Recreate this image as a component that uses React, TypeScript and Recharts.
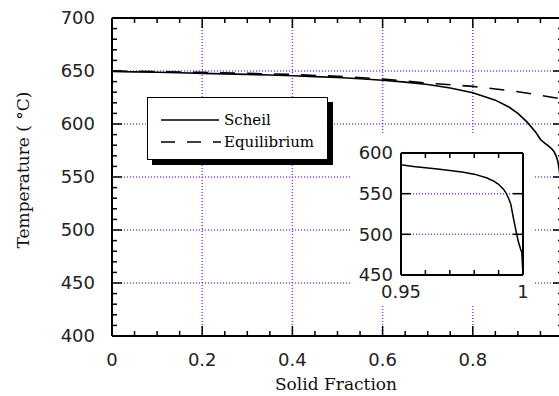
import { LineChart, Line, XAxis, YAxis, CartesianGrid, ReferenceLine } from "recharts";

// Scheil solidification path (solid fraction -> temperature, °C)
const scheilFs = [
  0, 0.05, 0.1, 0.15, 0.2, 0.25, 0.3, 0.35, 0.4, 0.45, 0.5, 0.55, 0.6, 0.65,
  0.7, 0.75, 0.8, 0.85, 0.88, 0.9, 0.92, 0.94, 0.95, 0.955, 0.96, 0.965, 0.97,
  0.975, 0.98, 0.985, 0.988, 0.99, 0.992, 0.993, 0.994, 0.995, 0.996, 0.997,
  0.998, 0.999, 0.9995, 1,
];
const scheilT = [
  649.5, 649.2, 648.8, 648.3, 647.8, 647.3, 646.8, 646.2, 645.5, 644.7, 643.8,
  642.7, 641.3, 639.5, 637.2, 634, 629.5, 622.5, 616, 610, 602, 592, 585.5,
  583.5, 581.8, 580.2, 578.5, 576.5, 574, 569.5, 565.5, 561.5, 555.5, 551, 545,
  537, 521, 506, 492, 482, 478, 450,
];

// Equilibrium (lever rule) path
const equilFs = [0, 0.1, 0.2, 0.3, 0.4, 0.5, 0.6, 0.7, 0.8, 0.85, 0.9, 0.95, 1];
const equilT = [
  650, 649.5, 648.7, 647.8, 646.7, 645, 642.5, 638.5, 635.5, 633, 630.5, 627,
  623.5,
];

// main axes
const mainXTicks = [
  0, 0.05, 0.1, 0.15, 0.2, 0.25, 0.3, 0.35, 0.4, 0.45, 0.5, 0.55, 0.6, 0.65,
  0.7, 0.75, 0.8, 0.85, 0.9, 0.95, 1,
];
const mainXMajors = [0, 0.2, 0.4, 0.6, 0.8, 1];
const mainXLabels = [0, 0.2, 0.4, 0.6, 0.8];
const mainYTicks = [
  400, 410, 420, 430, 440, 450, 460, 470, 480, 490, 500, 510, 520, 530, 540,
  550, 560, 570, 580, 590, 600, 610, 620, 630, 640, 650, 660, 670, 680, 690, 700,
];
const mainYMajors = [400, 450, 500, 550, 600, 650, 700];

// inset axes (end of solidification)
const insetXTicks = [0.95, 0.96, 0.97, 0.98, 0.99, 1];
const insetXMajors = [0.95, 1];
const insetYTicks = [450, 500, 550, 600];

const scheil = scheilFs.map((fs, i) => ({ fs, t: scheilT[i] }));
const equilibrium = equilFs.map((fs, i) => ({ fs, t: equilT[i] }));
const scheilTail = scheil.filter((d) => d.fs >= 0.95);

const GRID = "#9933ff";
const SANS = "'DejaVu Sans', sans-serif";
const SERIF = "'DejaVu Serif', serif";

// plot boxes
const MAIN = { left: 112, top: 18, width: 451, height: 318, chartW: 568, chartH: 396 };
const INSET = { left: 49, top: 20, width: 122, height: 122, boxW: 181, boxH: 171 };

const has = (list: number[], v: number) => list.some((m) => Math.abs(m - v) < 1e-9);

interface TickSpec {
  majors: number[];
  labels: number[];
  majorLen: number;
  minorLen: number;
  gap: number;
  span: number; // distance to the opposite side of the frame
}

// bottom ticks: inward tick on the bottom edge and the mirrored one on the top edge
function xFrameTick(spec: TickSpec) {
  return (props: any) => {
    const { x, y, payload } = props;
    const v: number = payload.value;
    const len = has(spec.majors, v) ? spec.majorLen : spec.minorLen;
    const top = y - spec.span;
    return (
      <g>
        <line x1={x} y1={y} x2={x} y2={y - len} stroke="#000" strokeWidth={1.5} />
        <line x1={x} y1={top} x2={x} y2={top + len} stroke="#000" strokeWidth={1.5} />
        {has(spec.labels, v) && (
          <text x={x} y={y + spec.gap} dy="0.36em" textAnchor="middle" fontSize={18} fontFamily={SANS} fill="#222">
            {String(v)}
          </text>
        )}
      </g>
    );
  };
}

// left ticks: inward tick on the left edge and the mirrored one on the right edge
function yFrameTick(spec: TickSpec) {
  return (props: any) => {
    const { x, y, payload } = props;
    const v: number = payload.value;
    const len = has(spec.majors, v) ? spec.majorLen : spec.minorLen;
    const right = x + spec.span;
    return (
      <g>
        <line x1={x} y1={y} x2={x + len} y2={y} stroke="#000" strokeWidth={1.5} />
        <line x1={right} y1={y} x2={right - len} y2={y} stroke="#000" strokeWidth={1.5} />
        {has(spec.labels, v) && (
          <text x={x - spec.gap} y={y} dy="0.36em" textAnchor="end" fontSize={18} fontFamily={SANS} fill="#222">
            {String(v)}
          </text>
        )}
      </g>
    );
  };
}

const axisLine = { stroke: "#000", strokeWidth: 2 };
const frame = { stroke: "#000", strokeWidth: 2, ifOverflow: "visible" as const };

function Inset() {
  return (
    <div
      style={{
        position: "absolute",
        left: 352,
        top: 133,
        width: INSET.boxW,
        height: INSET.boxH,
        background: "#fff",
      }}
    >
      <LineChart
        width={INSET.boxW}
        height={INSET.boxH}
        margin={{
          top: INSET.top,
          right: INSET.boxW - INSET.left - INSET.width,
          bottom: 0,
          left: 0,
        }}
      >
        <CartesianGrid
          vertical={false}
          horizontalValues={[500, 550]}
          stroke={GRID}
          strokeDasharray="1 2"
          strokeWidth={1.5}
        />
        <XAxis
          dataKey="fs"
          type="number"
          domain={[0.95, 1]}
          allowDataOverflow
          ticks={insetXTicks}
          interval={0}
          height={INSET.boxH - INSET.top - INSET.height}
          tickSize={0}
          tickMargin={0}
          tickLine={false}
          axisLine={axisLine}
          tick={xFrameTick({ majors: insetXMajors, labels: insetXMajors, majorLen: 10, minorLen: 5, gap: 17, span: INSET.height })}
        />
        <YAxis
          type="number"
          domain={[450, 600]}
          allowDataOverflow
          ticks={insetYTicks}
          interval={0}
          width={INSET.left}
          tickSize={0}
          tickMargin={0}
          tickLine={false}
          axisLine={axisLine}
          tick={yFrameTick({ majors: insetYTicks, labels: insetYTicks, majorLen: 10, minorLen: 5, gap: 8, span: INSET.width })}
        />
        <ReferenceLine y={600} {...frame} />
        <ReferenceLine x={1} {...frame} />
        <Line
          data={scheilTail}
          dataKey="t"
          type="linear"
          stroke="#000"
          strokeWidth={1.5}
          dot={false}
          isAnimationActive={false}
        />
      </LineChart>
    </div>
  );
}

function LegendBox() {
  return (
    <div
      style={{
        position: "absolute",
        left: 147,
        top: 97,
        width: 179,
        height: 61,
        border: "1px solid #000",
        background: "#fff",
        boxShadow: "5px 5px 0 #000",
      }}
    >
      <svg width={179} height={61} style={{ display: "block" }}>
        <line x1={13} y1={22} x2={71} y2={22} stroke="#000" strokeWidth={1.5} />
        <text x={76} y={27} fontSize={15} fontFamily={SERIF} fill="#000">
          Scheil
        </text>
        <line x1={13} y1={44} x2={73} y2={44} stroke="#000" strokeWidth={1.5} strokeDasharray="14 12" />
        <text x={76} y={49} fontSize={15} fontFamily={SERIF} fill="#000">
          Equilibrium
        </text>
      </svg>
    </div>
  );
}

export default function App() {
  return (
    <div
      style={{
        position: "absolute",
        left: 0,
        top: 0,
        width: 559,
        height: 396,
        overflow: "hidden",
        background: "#fff",
      }}
    >
      <LineChart
        width={MAIN.chartW}
        height={MAIN.chartH}
        margin={{ top: MAIN.top, right: MAIN.chartW - MAIN.left - MAIN.width, bottom: 0, left: 0 }}
      >
        <CartesianGrid
          horizontalValues={[450, 500, 550, 600, 650]}
          verticalValues={[0.2, 0.4, 0.6, 0.8]}
          stroke={GRID}
          strokeDasharray="1 2"
          strokeWidth={1.5}
        />
        <XAxis
          dataKey="fs"
          type="number"
          domain={[0, 1]}
          allowDataOverflow
          ticks={mainXTicks}
          interval={0}
          height={MAIN.chartH - MAIN.top - MAIN.height}
          tickSize={0}
          tickMargin={0}
          tickLine={false}
          axisLine={axisLine}
          tick={xFrameTick({ majors: mainXMajors, labels: mainXLabels, majorLen: 10, minorLen: 5, gap: 24, span: MAIN.height })}
          label={{
            content: () => (
              <text x={336} y={384} textAnchor="middle" dominantBaseline="central" fontFamily={SERIF} fontSize={17} fill="#111">
                Solid Fraction
              </text>
            ),
          }}
        />
        <YAxis
          type="number"
          domain={[400, 700]}
          allowDataOverflow
          ticks={mainYTicks}
          interval={0}
          width={MAIN.left}
          tickSize={0}
          tickMargin={0}
          tickLine={false}
          axisLine={axisLine}
          tick={yFrameTick({ majors: mainYMajors, labels: mainYMajors, majorLen: 10, minorLen: 5, gap: 17, span: MAIN.width })}
          label={{
            content: () => (
              <text
                x={23}
                y={170}
                transform="rotate(-90, 23, 170)"
                textAnchor="middle"
                dominantBaseline="central"
                fontFamily={SERIF}
                fontSize={17}
                fill="#111"
              >
                Temperature ( °C)
              </text>
            ),
          }}
        />
        <ReferenceLine y={700} {...frame} />
        <ReferenceLine x={1} {...frame} />
        <Line
          data={equilibrium}
          dataKey="t"
          name="Equilibrium"
          type="linear"
          stroke="#000"
          strokeWidth={1.6}
          strokeDasharray="15 12"
          dot={false}
          isAnimationActive={false}
        />
        <Line
          data={scheil}
          dataKey="t"
          name="Scheil"
          type="linear"
          stroke="#000"
          strokeWidth={1.6}
          dot={false}
          isAnimationActive={false}
        />
      </LineChart>
      <LegendBox />
      <Inset />
    </div>
  );
}
